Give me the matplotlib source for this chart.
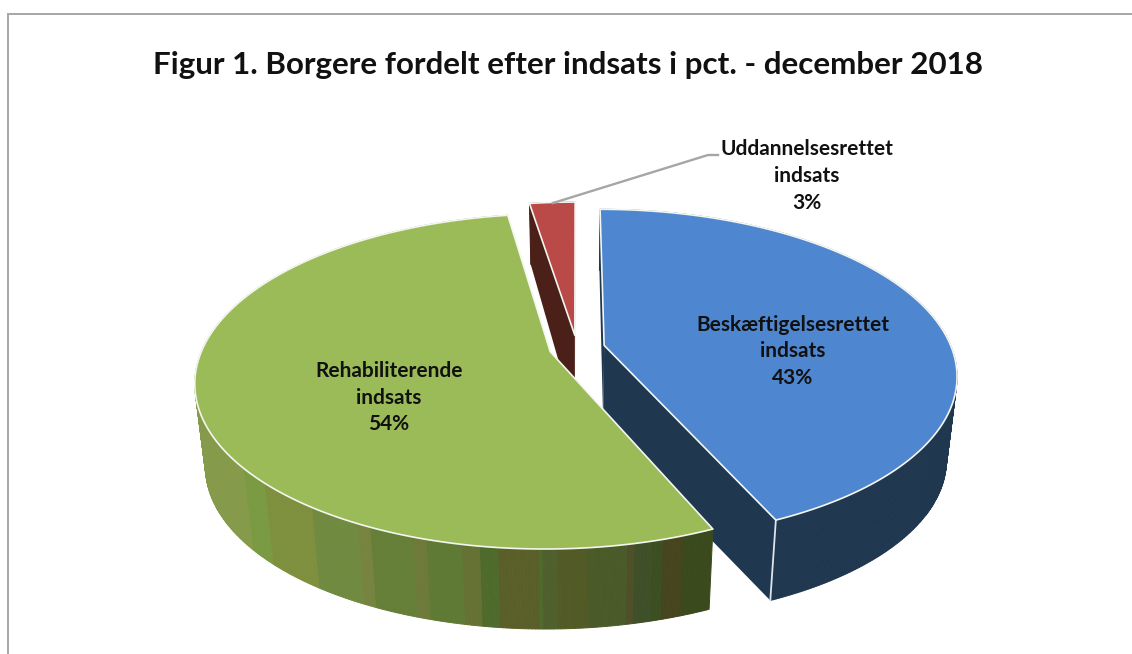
import numpy as np
import matplotlib
matplotlib.use("Agg")
import matplotlib.pyplot as plt
from matplotlib.patches import Polygon

title = "Figur 1. Borgere fordelt efter indsats i pct. - december 2018"
categories = ["Beskæftigelsesrettet\nindsats", "Rehabiliterende\nindsats", "Uddannelsesrettet\nindsats"]
values = [43.4, 54.1, 2.5]
value_labels = ["43%", "54%", "3%"]

TOP = ["#4f86d0", "#9bbb59", "#b94a48"]
WALL = ["#203750", "#7a8f40", "#4a2018"]

# green wall shading, by x position along the rim
SHADE_X = [252, 272, 320, 365, 377, 417, 430, 465, 482, 500, 538, 544, 556, 585, 625, 632, 650, 660, 680, 2000]
SHADE_C = ["#869a4b", "#7a9a42", "#7e8f3e", "#708a40", "#77843f", "#667f38", "#6d7a3a", "#5f7a35", "#667234",
           "#4f6b2c", "#5a5f2a", "#4f6a2a", "#4f5f2d", "#525a26", "#4a5a28", "#4f5029", "#3f5028", "#3c4f22",
           "#46451d", "#3a4a1c"]

CX, CY, A, B, K, EXPLODE = 577, 348, 347.5, 161, 0.177, 0.08
S_X, DEPTH, DEPTH_FAR = 0.972, 84, 23

fig = plt.figure(figsize=(11.32, 6.54), dpi=100)
ax = fig.add_axes([0, 0, 1, 1])
ax.set_xlim(0, 1132)
ax.set_ylim(654, 0)
ax.axis("off")


def project(u, v, bottom=False):
    w = 1 + K * v
    rx, ry = A * u / w, -B * v / w
    if bottom:
        return CX + S_X * rx, CY + ry + DEPTH - DEPTH_FAR * np.clip(v, 0, 1) - 4 * np.clip(-v, 0, 1)
    return CX + rx, CY + ry


ax.plot([8, 8, 1132], [654, 14, 14], color="#a6a6a6", lw=1.4, solid_joinstyle="miter", zorder=1)

fracs = np.array(values) / sum(values) * 360
starts = np.concatenate([[0], np.cumsum(fracs)[:-1]])
ends = starts + fracs
draw_order = [2, 0, 1]
z = 2
for i in draw_order:
    mid = np.radians((starts[i] + ends[i]) / 2)
    ou, ov = EXPLODE * np.sin(mid), EXPLODE * np.cos(mid)
    th = np.radians(np.linspace(starts[i], ends[i], max(int(fracs[i] * 2), 8)))
    u, v = ou + np.sin(th), ov + np.cos(th)
    tx, ty = project(u, v)
    bx, by = project(u, v, True)
    ax_, ay_ = project(ou, ov)
    bax, bay = project(ou, ov, True)

    if i != 1:
        for idx in (0, -1):
            ax.add_patch(Polygon([(ax_, ay_), (tx[idx], ty[idx]), (bx[idx], by[idx]), (bax, bay)],
                                 closed=True, fc=WALL[i], ec="none", zorder=z))
    for j in range(len(th) - 1):
        xm = (bx[j] + bx[j + 1]) / 2
        c = SHADE_C[int(np.searchsorted(SHADE_X, xm))] if i == 1 else WALL[i]
        ax.add_patch(Polygon([(tx[j], ty[j]), (tx[j + 1], ty[j + 1]), (bx[j + 1], by[j + 1]), (bx[j], by[j])],
                             closed=True, fc=c, ec=c, lw=0.7, zorder=z))
    if i != 1:
        ax.plot([tx[-1], bx[-1]], [ty[-1], by[-1]], color="#dfe4ea", lw=1.3, zorder=z + 0.5)
    ax.add_patch(Polygon([(ax_, ay_)] + list(zip(tx, ty)), closed=True, fc=TOP[i], ec="#f4f6f0", lw=1.2,
                         joinstyle="round", zorder=z + 1))
    z += 2

ax.plot([553, 708, 718], [203, 155, 155], color="#a6a6a6", lw=1.7, zorder=20)

FONT = "Lato"
ax.text(568, 65, title, ha="center", va="center", family=FONT, fontweight="bold", fontsize=22.6,
        color="#111111", zorder=21)
label_pos = [(793, [325, 351, 378]), (389, [371, 398, 424]), (807, [149, 176, 203])]
for cat, val, (x, ys) in zip(categories, value_labels, label_pos):
    lines = cat.split("\n") + [val]
    for line, y in zip(lines, ys):
        ax.text(x, y, line, ha="center", va="center", family=FONT, fontweight="bold", fontsize=15,
                color="#111111", zorder=21)

fig.savefig("out.png", dpi=100, facecolor="white")
